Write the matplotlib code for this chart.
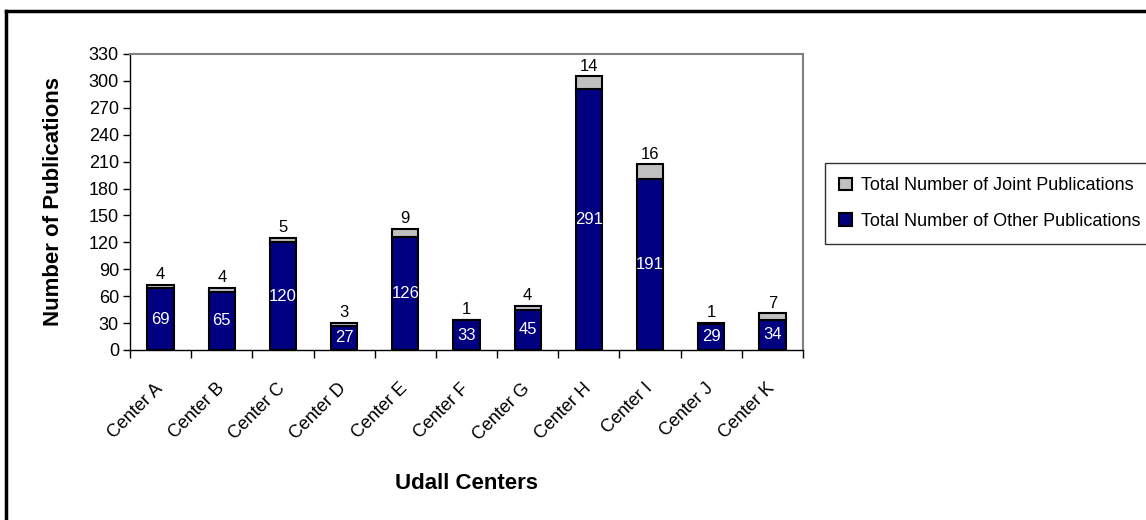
import matplotlib
matplotlib.use('Agg')
import matplotlib.pyplot as plt
from matplotlib.lines import Line2D
import numpy as np

plt.rcParams['font.family'] = ['Liberation Sans', 'DejaVu Sans']

centers = ['Center A', 'Center B', 'Center C', 'Center D', 'Center E', 'Center F',
           'Center G', 'Center H', 'Center I', 'Center J', 'Center K']
other_pubs = [69, 65, 120, 27, 126, 33, 45, 291, 191, 29, 34]
joint_pubs = [4, 4, 5, 3, 9, 1, 4, 14, 16, 1, 7]
y_ticks = list(range(0, 331, 30))

fig = plt.figure(figsize=(11.46, 5.2), dpi=100)
ax = fig.add_axes([130 / 1146, 1 - 350 / 520, 673 / 1146, 296 / 520])

x = np.arange(len(centers))
width = 0.43
b1 = ax.bar(x, other_pubs, width, color='#000080', edgecolor='black', linewidth=1.5,
            label='Total Number of Other Publications', zorder=3)
b2 = ax.bar(x, joint_pubs, width, bottom=other_pubs, color='#c0c0c0', edgecolor='black',
            linewidth=1.5, label='Total Number of Joint Publications', zorder=3)

# value labels
for xi, o, j in zip(x, other_pubs, joint_pubs):
    ax.text(xi, o / 2, str(o), ha='center', va='center', color='white', fontsize=12, zorder=4)
    ax.text(xi, o + j + 3, str(j), ha='center', va='bottom', color='black', fontsize=12, zorder=4)

ax.set_xlim(-0.5, len(centers) - 0.5)
ax.set_ylim(0, 330)
ax.set_yticks(y_ticks)
ax.tick_params(axis='y', labelsize=13, length=5, direction='out', width=1, pad=3)
ax.set_xticks(x)
ax.set_xticklabels(centers, rotation=45, ha='right', va='center', rotation_mode='anchor',
                   fontsize=13)
ax.tick_params(axis='x', which='major', length=0, pad=26)
ax.set_xticks(np.arange(-0.5, len(centers), 1), minor=True)
ax.tick_params(axis='x', which='minor', length=6, width=1, direction='out')

for s in ['left', 'bottom']:
    ax.spines[s].set_color('black')
    ax.spines[s].set_linewidth(1)
for s in ['top', 'right']:
    ax.spines[s].set_color('#808080')
    ax.spines[s].set_linewidth(1.5)

ax.set_ylabel('Number of Publications', fontsize=16, fontweight='bold', labelpad=18)
ax.set_xlabel('Udall Centers', fontsize=16, fontweight='bold', labelpad=21)

leg = fig.legend(handles=[b2, b1], loc='upper left', bbox_to_anchor=(825 / 1146, 1 - 163 / 520),
                 fontsize=13, frameon=True, fancybox=False, edgecolor='black',
                 handlelength=0.7, handleheight=0.7, handletextpad=0.5,
                 labelspacing=1.0, borderpad=0.8, borderaxespad=0)
leg.get_frame().set_linewidth(1)

# outer chart border (left and top only visible)
fig.add_artist(Line2D([6 / 1146, 6 / 1146], [0, 1 - 11 / 520], color='black', linewidth=2.5,
                      transform=fig.transFigure))
fig.add_artist(Line2D([6 / 1146, 1], [1 - 11 / 520, 1 - 11 / 520], color='black', linewidth=2.5,
                      transform=fig.transFigure))

plt.savefig('out.png', dpi=100, facecolor='white')
plt.close()
